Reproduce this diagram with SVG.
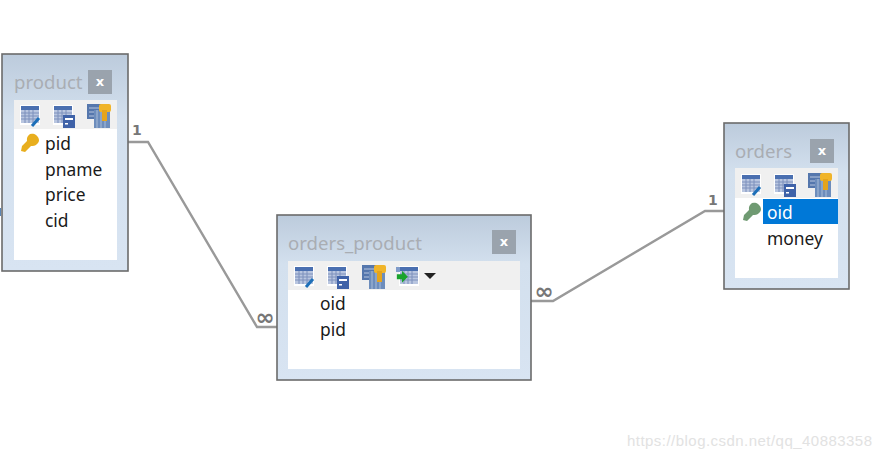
<svg xmlns="http://www.w3.org/2000/svg" width="881" height="458" viewBox="0 0 881 458">
<style>
.box{stroke:#6b6b6b;stroke-width:1.6}
.panel{fill:#fff}
.bar{fill:#f0f0f0}
.close{fill:#9aa3ad}
.x{font:bold 13px "DejaVu Sans",sans-serif;fill:#fff;text-anchor:middle}
.title{font:18.6px "Noto Sans","Open Sans",sans-serif;fill:#a9adb3}
.col{font:17.4px "Noto Sans","Open Sans",sans-serif;fill:#1a1a1a}
.conn{fill:none;stroke:#999;stroke-width:2.4}
.card{font:bold 14px "DejaVu Sans",sans-serif;fill:#777}
.inf{font:bold 23px "DejaVu Sans",sans-serif;fill:#777;text-anchor:middle}
.wm{font:15px "Liberation Sans",sans-serif;fill:#e2e2e2}
</style>
<defs>
<linearGradient id="g" x1="0" y1="0" x2="0" y2="1"><stop offset="0" stop-color="#bccbdc"/><stop offset="0.3" stop-color="#d3e0ee"/><stop offset="1" stop-color="#d8e4f2"/></linearGradient>
<g id="grid"><rect x="-1" y="-1" width="20" height="20" fill="#fff"/><rect width="18" height="17" fill="#b9c6e0"/><rect width="18" height="4" fill="#4a6fb0"/><path d="M0 7h18M0 10h18M0 13h18M4 4v13M8 4v13M12 4v13" stroke="#7d90bc" stroke-width="1" fill="none"/></g>
<g id="i1"><use href="#grid"/><path d="M11 20l7-8" stroke="#1d6fb8" stroke-width="3"/></g>
<g id="i2"><use href="#grid"/><rect x="9" y="9" width="12" height="13" fill="#3f62a8"/><rect x="11" y="12" width="8" height="2" fill="#fff"/><rect x="11" y="17" width="3" height="1.5" fill="#fff"/></g>
<g id="i3"><rect x="0" y="0" width="16" height="15" fill="#5577ad"/><path d="M2 4h12M2 8h12M2 12h12" stroke="#b9c7df"/><rect x="7" y="6" width="16" height="18" fill="#6d8dbc"/><path d="M10 6v18M14 6v18M18 6v18" stroke="#a9bcd8"/><rect x="12" y="0" width="12" height="8" rx="2" fill="#f0b429"/><rect x="15" y="6" width="5" height="11" fill="#e5a41c"/></g>
<g id="i4"><use href="#grid" x="4"/><rect x="0" y="0" width="4" height="5" fill="#7f9bc9"/><path d="M1 5h6V1l7 7-7 7v-4H1z" fill="#19a32c" transform="translate(0 3) scale(.85)"/></g>
<path id="key" d="M9 1a7 7 0 0 1 9 7 7 7 0 0 1-8 5l-6 6-4-1 1-5 5-5a7 7 0 0 1 3-7z"/>
</defs>
<path id="edge-mark" d="M0 208v8" stroke="#5b86b5" stroke-width="2" fill="none"/>
<g id="connectors">
<path class="conn" d="M128 142H148L257 327H277"/>
<path class="conn" d="M531 301H553L705 211H724"/>
<text class="card" x="132" y="135">1</text>
<text class="card" x="708" y="205">1</text>
<text class="inf" x="265" y="325">∞</text>
<text class="inf" x="544" y="299">∞</text>
</g>
<g id="product">
<rect class="box" x="2" y="54" width="126" height="217" fill="url(#g)"/>
<text class="title" x="14" y="89">product</text>
<rect class="close" x="88" y="70" width="24" height="24"/><text class="x" x="100" y="86">x</text>
<rect class="panel" x="14" y="100" width="103" height="160"/><rect class="bar" x="14" y="100" width="103" height="29"/>
<use href="#i1" x="21" y="106"/><use href="#i2" x="54" y="106"/><use href="#i3" x="87" y="104"/>
<use href="#key" x="21" y="133" fill="#e8ae1e"/>
<text class="col" x="45" y="149.500">pid</text><text class="col" x="45" y="175.500">pname</text><text class="col" x="45" y="200.500">price</text><text class="col" x="45" y="226.500">cid</text>
</g>
<g id="orders_product">
<rect class="box" x="277" y="215" width="254" height="165" fill="url(#g)"/>
<text class="title" x="288" y="250">orders_product</text>
<rect class="close" x="492" y="230" width="24" height="24"/><text class="x" x="504" y="246">x</text>
<rect class="panel" x="288" y="261" width="232" height="108"/><rect class="bar" x="288" y="261" width="232" height="29"/>
<use href="#i1" x="295" y="267"/><use href="#i2" x="328" y="267"/><use href="#i3" x="362" y="265"/><use href="#i4" x="396" y="267"/>
<path d="M424 273h12l-6 6z" fill="#222"/>
<text class="col" x="320" y="309.500">oid</text><text class="col" x="320" y="335.500">pid</text>
</g>
<g id="orders">
<rect class="box" x="724" y="123" width="125" height="166" fill="url(#g)"/>
<text class="title" x="735" y="158">orders</text>
<rect class="close" x="810" y="139" width="24" height="24"/><text class="x" x="822" y="155">x</text>
<rect class="panel" x="735" y="168" width="103" height="110"/><rect class="bar" x="735" y="168" width="103" height="30"/>
<use href="#i1" x="742" y="175"/><use href="#i2" x="775" y="175"/><use href="#i3" x="808" y="173"/>
<use href="#key" x="743" y="202" fill="#6f9a72"/>
<rect x="763" y="199" width="75" height="25" fill="#0078d7"/>
<text class="col" x="767" y="218.500" style="fill:#fff">oid</text><text class="col" x="767" y="244.500">money</text>
</g>
<g id="watermark">
<text class="wm" x="627" y="446" textLength="245">https://blog.csdn.net/qq_40883358</text>
</g>
</svg>
